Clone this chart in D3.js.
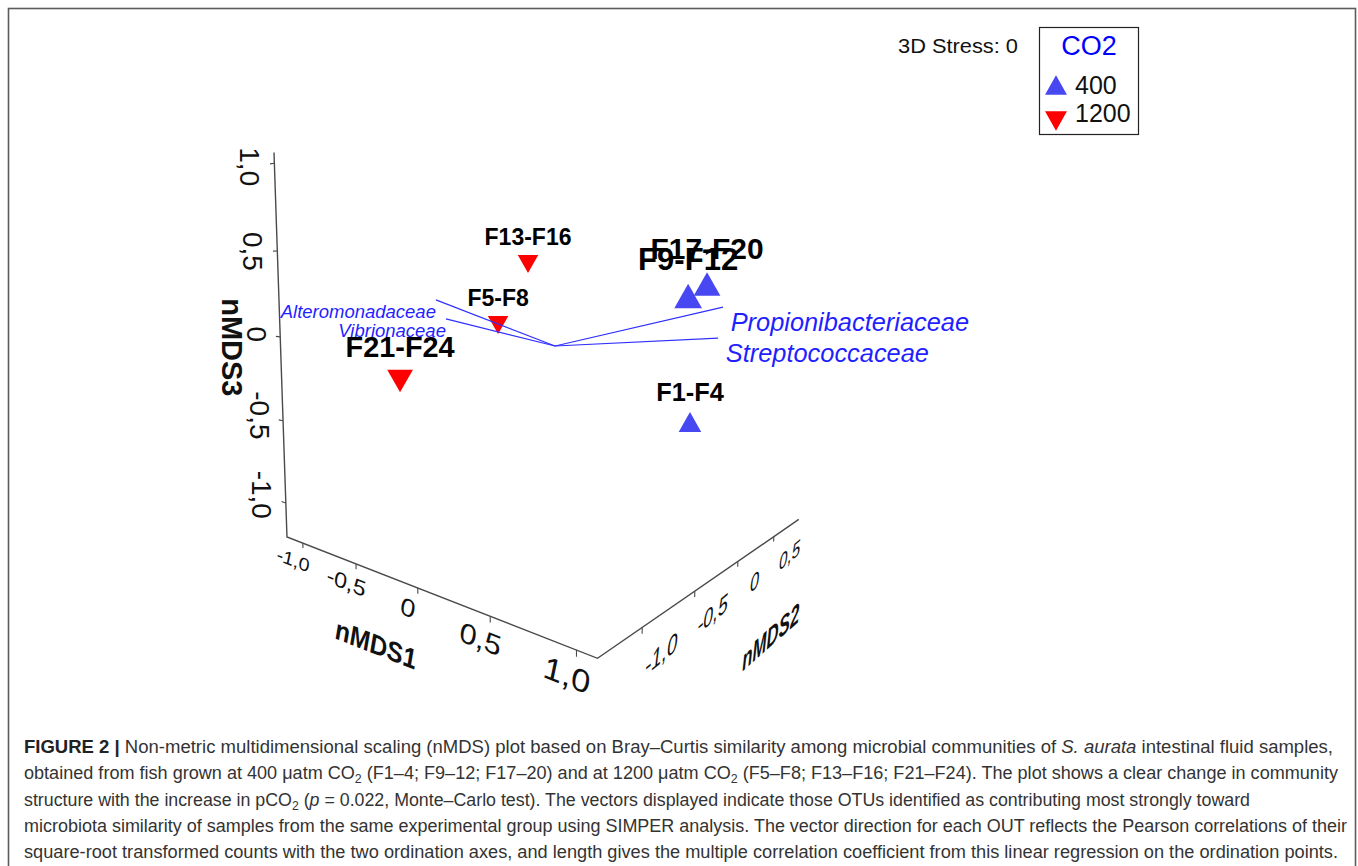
<!DOCTYPE html>
<html><head><meta charset="utf-8">
<script src="https://cdn.jsdelivr.net/npm/d3@7"></script>
<style>body{margin:0;background:#fff} svg{display:block}</style>
</head><body>
<svg id="c" width="1358" height="866"></svg>
<script>
// ---------------- data ----------------
const sampleLabels = ["F1-F4","F5-F8","F9-F12","F13-F16","F17-F20","F21-F24"];
const sampleCO2    = [400, 1200, 400, 1200, 400, 1200];
const nmds1 = [ 0.620, -0.668,  0.983, -0.536,  0.984, -0.344];
const nmds2 = [ 0.336,  0.000, -0.394,  0.161, -0.193, -1.150];
const nmds3 = [-0.546,  0.010,  0.266,  0.423,  0.322, -0.206];

const vectorNames = ["Alteromonadaceae","Vibrionaceae","Propionibacteriaceae","Streptococcaceae"];
const vec1 = [-1.007, -0.946, 1.152, 1.143];
const vec2 = [-0.254, -0.221, -0.347, -0.375];
const vec3 = [ 0.180,  0.051, 0.214, 0.061];
const vectorOrigin = [-0.106, -0.089, -0.088];

const xDomain = [-1.163, 1.109];
const yDomain = [-1.353, 0.904];
const zDomain = [-1.21, 1.06];
const xTicks = [-1, -0.5, 0, 0.5, 1];
const yTicks = [-1, -0.5, 0, 0.5];
const zTicks = [-1, -0.5, 0, 0.5, 1];
const axisTitles = ["nMDS1", "nMDS2", "nMDS3"];
const stressText = "3D Stress: 0";
const legendTitle = "CO2";
const legendLevels = [400, 1200];

// ---------------- 3D projection ----------------
const unit = 0.608;
const xs = d3.scaleLinear().domain(xDomain).range([0, (xDomain[1]-xDomain[0])*unit]);
const ys = d3.scaleLinear().domain(yDomain).range([0, (yDomain[1]-yDomain[0])*unit]);
const zs = d3.scaleLinear().domain(zDomain).range([0, (zDomain[1]-zDomain[0])*unit]);
const cam = {f: 772.8, px: 540, py: 340, pitch: Math.asin(0.1)};
const azX = 129.1*Math.PI/180, azY = 39.1*Math.PI/180;
const eX = [Math.sin(azX), Math.cos(azX)], eY = [Math.sin(azY), Math.cos(azY)];
const corner = [-0.926, 2.742, -1];
function project(x, y, z){
  const a = xs(x), b = ys(y), c = zs(z);
  const R = corner[0] + a*eX[0] + b*eY[0];
  const F = corner[1] + a*eX[1] + b*eY[1];
  const U = corner[2] + c;
  const s = Math.sin(cam.pitch), co = Math.cos(cam.pitch);
  const yc = U*co + F*s, zc = F*co - U*s;
  return {x: cam.px + cam.f*R/zc, y: cam.py - cam.f*yc/zc, depth: zc};
}
const zRef = 3.2;
const angleBetween = (p, q) => Math.atan2(q.y - p.y, q.x - p.x)*180/Math.PI;

const svg = d3.select("#c");
const FONT = "'Liberation Sans', Arial, Helvetica, sans-serif";

// frame
svg.append("rect").attr("x", 8.5).attr("y", 8.5).attr("width", 1347).attr("height", 900)
  .attr("fill", "none").attr("stroke", "#5c5c5c").attr("stroke-width", 1.6);

const g = svg.append("g").attr("font-family", FONT);
const line = d3.line().x(d => d.x).y(d => d.y);
const [x0, x1] = xDomain, [y0, y1] = yDomain, [z0, z1] = zDomain;

// axes
g.append("path")
  .attr("d", line([project(x0,y0,z1), project(x0,y0,z0), project(x1,y0,z0), project(x1,y1,z0)]))
  .attr("fill", "none").attr("stroke", "#4a4a4a").attr("stroke-width", 1.4);

const tickFmt = v => v === 0 ? "0" : d3.format(".1f")(v).replace(".", ",").replace("\u2212", "-");

// ticks
const tickLines = [];
xTicks.forEach(v => tickLines.push([project(v,y0,z0), project(v,y0,z0-0.03)]));
yTicks.forEach(v => tickLines.push([project(x1,v,z0), project(x1,v,z0-0.03)]));
zTicks.forEach(v => tickLines.push([project(x0,y0,v), project(x0-0.045,y0,v)]));
g.selectAll("path.tick").data(tickLines).join("path").attr("class","tick")
  .attr("d", d => line(d)).attr("stroke", "#4a4a4a").attr("stroke-width", 1.1).attr("fill","none");

// z tick labels
g.selectAll("text.zl").data(zTicks).join("text").attr("class","zl")
  .attr("transform", v => { const p = project(x0-0.26, y0, v); return `translate(${p.x},${p.y}) rotate(90)`; })
  .attr("text-anchor","middle").attr("dominant-baseline","central")
  .attr("font-size", 28).attr("fill","#111").text(tickFmt);

// x tick labels
const xLabSize = d3.scaleLinear().domain([-1, 1]).range([19, 33]);
g.selectAll("text.xl").data(xTicks).join("text").attr("class","xl")
  .attr("transform", v => {
    const p = project(v, y0-0.07, z0-0.08);
    const ang = angleBetween(project(v-0.05,y0,z0), project(v+0.05,y0,z0));
    return `translate(${p.x},${p.y}) skewY(${ang})`;
  })
  .attr("text-anchor","middle").attr("dominant-baseline","central")
  .attr("font-style","italic").attr("font-size", v => xLabSize(v)).attr("fill","#111").text(tickFmt);

// y tick labels
const yLabSize = d3.scaleLinear().domain([-1, 0.5]).range([26, 21]);
g.selectAll("text.yl").data(yTicks).join("text").attr("class","yl")
  .attr("transform", v => {
    const p = project(x1+0.1, v, z0-0.09);
    const ang = angleBetween(project(x1,v-0.05,z0), project(x1,v+0.05,z0));
    return `translate(${p.x},${p.y}) skewY(${ang*1.15}) scale(0.72,1)`;
  })
  .attr("text-anchor","middle").attr("dominant-baseline","central")
  .attr("font-style","italic").attr("font-size", v => yLabSize(v)).attr("fill","#111").text(tickFmt);

// axis titles
{
  const p1 = project(-0.22, y0-0.1, z0-0.33);
  const a1 = angleBetween(project(-0.27,y0,z0), project(-0.17,y0,z0));
  g.append("text").attr("transform", `translate(${p1.x},${p1.y}) skewY(${a1}) scale(0.82,1)`)
    .attr("text-anchor","middle").attr("dominant-baseline","central")
    .attr("font-weight","bold").attr("font-style","italic").attr("font-size",29).attr("fill","#111").text(axisTitles[0]);
  const p2 = project(x1+0.3, -0.25, z0-0.24);
  const a2 = angleBetween(project(x1,-0.3,z0), project(x1,-0.2,z0));
  g.append("text").attr("transform", `translate(${p2.x},${p2.y}) skewY(${a2*1.2}) scale(0.6,1)`)
    .attr("text-anchor","middle").attr("dominant-baseline","central")
    .attr("font-weight","bold").attr("font-style","italic").attr("font-size",28).attr("fill","#111").text(axisTitles[1]);
  const p3 = project(x0-0.55, y0, -0.1);
  g.append("text").attr("transform", `translate(${p3.x},${p3.y}) rotate(90)`)
    .attr("text-anchor","middle").attr("dominant-baseline","central")
    .attr("font-weight","bold").attr("font-size",29).attr("fill","#111").text(axisTitles[2]);
}

// samples
const color = d3.scaleOrdinal().domain(legendLevels).range(["#4848f2", "#ff0000"]);
const tri = (w, up) => { const h = w*0.88, s = up ? 1 : -1;
  return `M0,${-s*h/2}L${w/2},${s*h/2}L${-w/2},${s*h/2}Z`; };
const samples = sampleLabels.map((lab, i) => ({lab, co2: sampleCO2[i], p: project(nmds1[i], nmds2[i], nmds3[i])}))
  .sort((a, b) => b.p.depth - a.p.depth);
const sg = g.selectAll("g.sample").data(samples).join("g").attr("class","sample")
  .attr("transform", d => `translate(${d.p.x},${d.p.y})`);
sg.append("path").attr("d", d => tri(20.5*zRef/d.p.depth, d.co2 === 400)).attr("fill", d => color(d.co2));
sg.append("text").attr("text-anchor","middle")
  .attr("y", d => -0.83*23*zRef/d.p.depth)
  .attr("font-size", d => 23*zRef/d.p.depth).attr("font-weight","bold").attr("fill","#000").text(d => d.lab);

// vectors
const o = project(...vectorOrigin);
const vecs = vectorNames.map((n, i) => ({n, e: project(vec1[i], vec2[i], vec3[i])}));
g.selectAll("path.vec").data(vecs).join("path").attr("class","vec")
  .attr("d", d => line([o, d.e])).attr("stroke", "#2f2fff").attr("stroke-width", 1.2).attr("fill","none");
g.selectAll("text.vecl").data(vecs).join("text").attr("class","vecl")
  .each(function(d){
    const fs = 18.5*zRef/d.e.depth, right = d.e.x > o.x;
    d3.select(this).attr("font-size", fs)
      .attr("x", right ? d.e.x + 0.3*fs : d.e.x)
      .attr("y", d.e.y + (right ? 0.95 : 0.97)*fs)
      .attr("text-anchor", right ? "start" : "end");
  })
  .attr("font-style","italic").attr("fill","#1f1fff").text(d => d.n);

// stress + legend
g.append("text").attr("x", 898).attr("y", 53).attr("font-size", 20).attr("textLength", 120)
  .attr("lengthAdjust","spacingAndGlyphs").attr("fill","#111").text(stressText);
g.append("rect").attr("x", 1039.5).attr("y", 27.5).attr("width", 99).attr("height", 107)
  .attr("fill","none").attr("stroke","#222").attr("stroke-width",1.2);
g.append("text").attr("x", 1089).attr("y", 55).attr("text-anchor","middle").attr("font-size", 27)
  .attr("fill","#0000ff").text(legendTitle);
const lg = g.selectAll("g.leg").data(legendLevels).join("g").attr("class","leg")
  .attr("transform", (d, i) => `translate(1056,${85 + i*36})`);
lg.append("path").attr("d", d => tri(22, d === 400)).attr("fill", d => color(d));
lg.append("text").attr("x", 19).attr("y", (d, i) => i === 0 ? 9 : 1).attr("font-size", 25).attr("fill","#111").text(d => d);

// caption
const caption = [
  [["FIGURE 2 |","b"],[" Non-metric multidimensional scaling (nMDS) plot based on Bray\u2013Curtis similarity among microbial communities of ",""],["S. aurata","i"],[" intestinal fluid samples,",""]],
  [["obtained from fish grown at 400 \u03bcatm CO",""],["2","sub"],[" (F1\u20134; F9\u201312; F17\u201320) and at 1200 \u03bcatm CO",""],["2","sub"],[" (F5\u2013F8; F13\u2013F16; F21\u2013F24). The plot shows a clear change in community",""]],
  [["structure with the increase in pCO",""],["2","sub"],[" (",""],["p","i"],[" = 0.022, Monte\u2013Carlo test). The vectors displayed indicate those OTUs identified as contributing most strongly toward",""]],
  [["microbiota similarity of samples from the same experimental group using SIMPER analysis. The vector direction for each OUT reflects the Pearson correlations of their",""]],
  [["square-root transformed counts with the two ordination axes, and length gives the multiple correlation coefficient from this linear regression on the ordination points.",""]]
];
const capEnds = [1333, 1338, 1250, 1347, 1338];
const capG = svg.append("g").attr("font-family", FONT).attr("fill", "#333");
caption.forEach((segs, li) => {
  const t = capG.append("text").attr("x", 24).attr("y", 753 + li*26.3).attr("font-size", 17.5)
    .attr("textLength", capEnds[li] - 24).attr("lengthAdjust", "spacingAndGlyphs");
  let shifted = false;
  segs.forEach(([txt, st]) => {
    const ts = t.append("tspan").text(txt);
    if (st === "b") ts.attr("font-weight", "bold").attr("fill", "#222");
    if (st === "i") ts.attr("font-style", "italic");
    if (st === "sub") { ts.attr("font-size", 12).attr("dy", 4); shifted = true; }
    else if (shifted) { ts.attr("dy", -4); shifted = false; }
  });
});
</script>
</body></html>
